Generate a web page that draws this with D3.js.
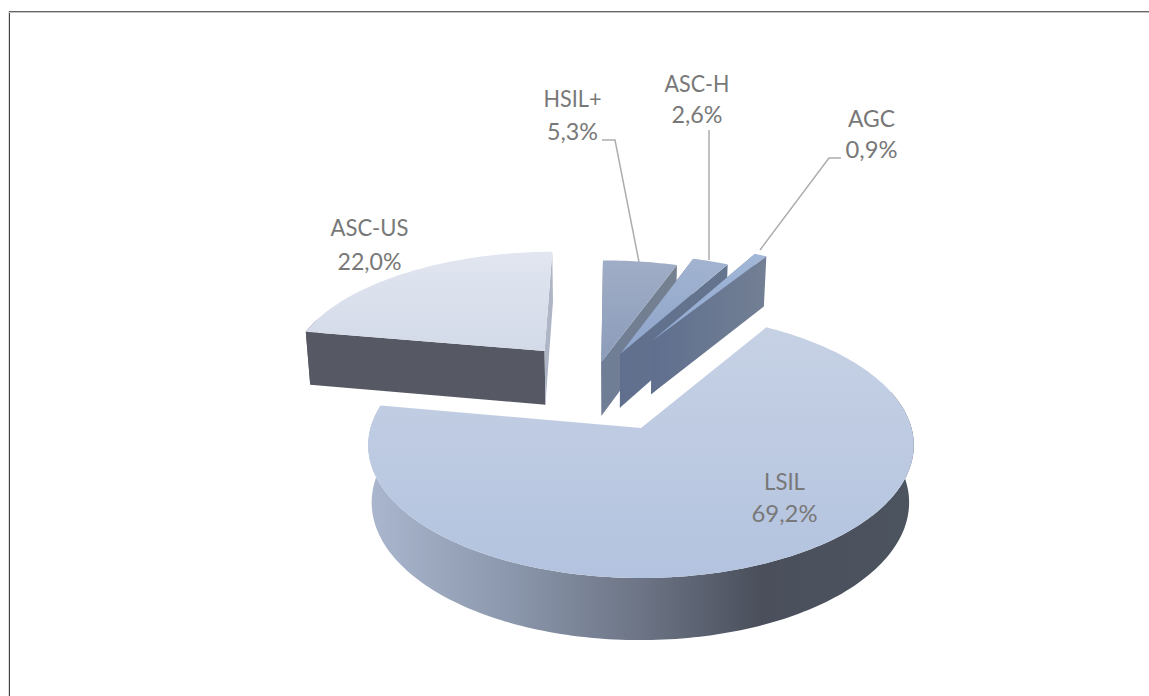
<!DOCTYPE html>
<html><head><meta charset="utf-8">
<script src="https://cdn.jsdelivr.net/npm/d3@7/dist/d3.min.js"></script>
<style>html,body{margin:0;padding:0;background:#fff}svg{display:block}text{font-family:Lato,"Open Sans",sans-serif}</style>
</head><body><div id="chart"></div>
<script>
const categories = ["LSIL","ASC-US","HSIL+","ASC-H","AGC"];
const percents = [69.2,22.0,5.3,2.6,0.9];
const labels = ["69,2%","22,0%","5,3%","2,6%","0,9%"];

const W=1149,H=696;
const svg=d3.select("#chart").append("svg").attr("width",W).attr("height",H);
const defs=svg.append("defs");
function grad(id,x1,y1,x2,y2,stops){
  const g=defs.append("linearGradient").attr("id",id).attr("gradientUnits","userSpaceOnUse")
    .attr("x1",x1).attr("y1",y1).attr("x2",x2).attr("y2",y2);
  stops.forEach(s=>g.append("stop").attr("offset",s[0]).attr("stop-color",s[1]));
  return `url(#${id})`;
}
// frame
const frame=[["M9.5,696 V11","#444"],["M8.5,696 V11","#dcdcdc"],["M9,11.5 H1149","#666"],["M9,12.5 H1149","#c4c4c4"]];
svg.append("g").selectAll("path").data(frame).join("path")
  .attr("d",d=>d[0]).attr("fill","none").attr("stroke",d=>d[1]).attr("stroke-width",1);

// perspective projection: world (X right, Y away, Z down) -> screen
const K=0.13, VX=600;
const sx=d3.scaleLinear().domain([0,1]).range([641,641+270.5]);
const sy=d3.scaleLinear().domain([0,1]).range([428,428-130.5]);
function proj(X,Y,Z){
  const s=1/(1+K*Y);
  const x=sx(X*s), y=sy(Y*s);
  return [VX+(x-VX)*(1-0.015*Z), y+Z*(19+37.5*s)];
}

const pie=d3.pie().sort(null).startAngle(31*Math.PI/180).endAngle(391*Math.PI/180);
const arcs=pie(percents);
// exploded apex positions in world units, per slice
const apex=[[0,0],[-0.386,0.639],[-0.157,0.541],[-0.083,0.612],[0.044,0.73]];
const styles=[
 {top:["#c6d1e4","#b3c3df"],topY:[328,578],
  wall:[[0,"#a9b6cd"],[.25,"#8c98ad"],[.5,"#6c7485"],[.72,"#4a4f5b"],[1,"#4c5460"]],wallX:[372,912]},
 {top:["#e1e6f0","#d3dae8"],topY:[250,350],wall:[[0,"#565963"],[1,"#565963"]],wallX:[306,547],side:"#aeb6c6"},
 {top:["#a0adc6","#8b9cba"],topY:[260,362],wall:[[0,"#6f7d96"],[1,"#75818f"]],wallX:[601,677]},
 {top:["#a2b3d0","#8ea5cb"],topY:[260,355],wall:[[0,"#5f6f8d"],[1,"#66758e"]],wallX:[620,726]},
 {top:["#a3b8d8","#90a9d0"],topY:[250,340],wall:[[0,"#5f6f8e"],[1,"#727f94"]],wallX:[652,765]}
];
const line=d3.line();
const drawOrder=[1,2,3,4,0];
const gPie=svg.append("g");
drawOrder.forEach(i=>{
  const a=arcs[i],[ax,ay]=apex[i],st=styles[i];
  const n=Math.max(4,Math.round((a.endAngle-a.startAngle)/0.02));
  const angs=d3.range(n+1).map(j=>a.startAngle+(a.endAngle-a.startAngle)*j/n);
  const pt=(t,z)=>proj(ax+Math.sin(t),ay+Math.cos(t),z);
  const c0=proj(ax,ay,0),c1=proj(ax,ay,1);
  const wg=grad("w"+i,st.wallX[0],0,st.wallX[1],0,st.wall);
  const tg=grad("t"+i,0,st.topY[0],0,st.topY[1],[[0,st.top[0]],[1,st.top[1]]]);
  const g=gPie.append("g");
  // outer curved wall: the part that faces the viewer, plus a margin hidden under the top face
  const front=angs.filter(t=>Math.cos(t)<0.3);
  if(front.length>1)
    g.append("path").attr("d",line(front.map(t=>pt(t,0)).concat(front.map(t=>pt(t,1)).reverse()))+"Z").attr("fill",wg);
  // radial walls of the exploded slices
  if(i!==0){
    g.append("path").attr("d",line([c0,pt(angs[0],0),pt(angs[0],1),c1])+"Z").attr("fill",wg);
    g.append("path").attr("d",line([c0,pt(angs[n],0),pt(angs[n],1),c1])+"Z").attr("fill",i===1?st.side:wg);
  }
  // top face
  g.append("path").attr("d",line([c0].concat(angs.map(t=>pt(t,0))))+"Z").attr("fill",tg);
});

// leader lines
const leaders=[
 [[602,140],[615,140],[639,262]],
 [[709,130],[709,260]],
 [[841,158],[829,158],[760,250]]
];
svg.append("g").selectAll("path").data(leaders).join("path").attr("d",d=>line(d))
  .attr("fill","none").attr("stroke","#adadad").attr("stroke-width",1.5);

// labels: centre x, baselines, fitted widths
const labelX=[784.5,369.5,572.5,697,871.5];
const nameY=[490,236,106.5,92,126.5];
const pctY=[522,270,140,123,158];
const nameW=[41,78,58,65,47];
const pctW=[66,64,51,51,52];
const gText=svg.append("g").attr("text-anchor","middle").attr("font-size",23).attr("fill","#787878");
categories.forEach((c,i)=>{
  gText.append("text").attr("x",labelX[i]).attr("y",nameY[i]).attr("textLength",nameW[i]).attr("lengthAdjust","spacingAndGlyphs").text(c);
  gText.append("text").attr("x",labelX[i]).attr("y",pctY[i]).attr("textLength",pctW[i]).attr("lengthAdjust","spacingAndGlyphs").text(labels[i]);
});
</script></body></html>
